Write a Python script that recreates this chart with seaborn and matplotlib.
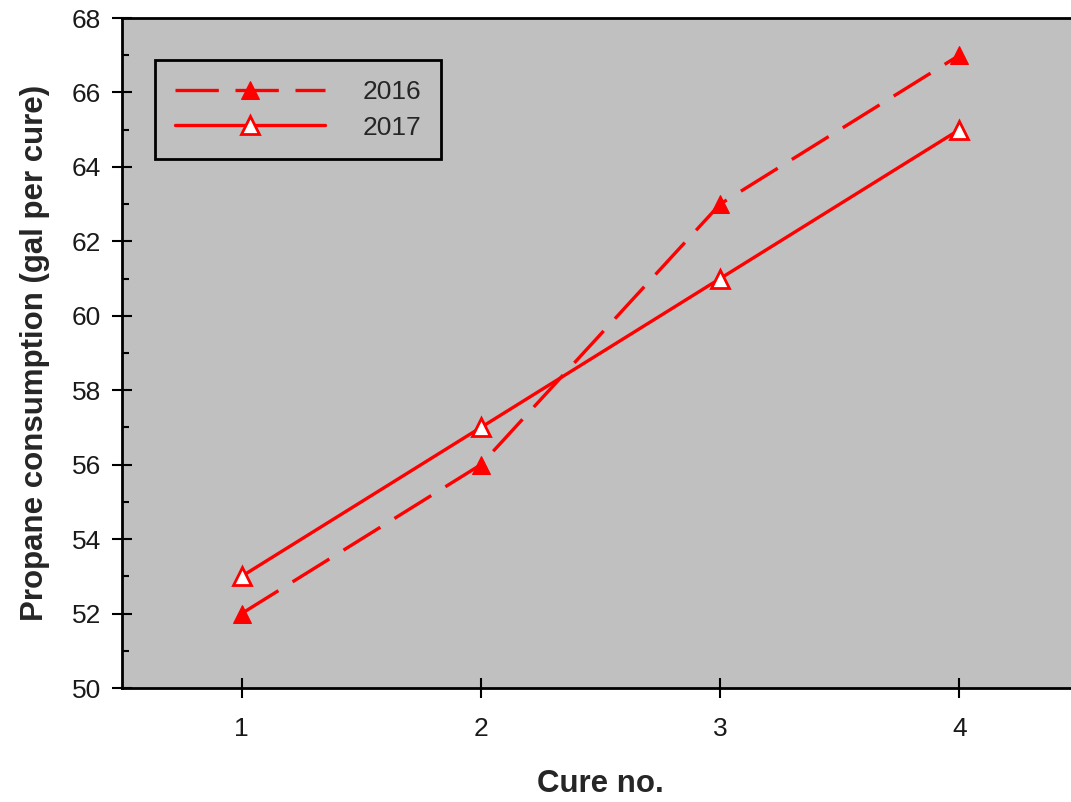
import matplotlib
matplotlib.use("Agg")
import matplotlib.pyplot as plt
import seaborn as sns
import pandas as pd
from matplotlib.ticker import MultipleLocator

cure = [1, 2, 3, 4]
y2016 = [52, 56, 63, 67]
y2017 = [53, 57, 61, 65]
series = ["2016", "2017"]

df = pd.DataFrame({
    "cure": cure * 2,
    "value": y2016 + y2017,
    "year": [series[0]] * 4 + [series[1]] * 4,
})

sns.set_theme(style="ticks")
plt.rcParams['font.family'] = ['Liberation Sans', 'DejaVu Sans']

fig = plt.figure(figsize=(10.71, 8.02), dpi=100)
ax = fig.add_axes([122/1071, 114/802, 957/1071, 670/802])
ax.set_facecolor("#c0c0c0")

red = "#ff0000"
sns.lineplot(data=df[df.year == "2016"], x="cure", y="value", ax=ax, color=red,
             lw=2.4, marker="^", markersize=13, markerfacecolor=red,
             markeredgecolor=red, label="2016", dashes=False)
sns.lineplot(data=df[df.year == "2017"], x="cure", y="value", ax=ax, color=red,
             lw=2.4, marker="^", markersize=13, markerfacecolor="white",
             markeredgecolor=red, markeredgewidth=2, label="2017")
ax.lines[0].set_dashes([13, 5])

ax.set_xlim(0.5, 4.5)
ax.set_ylim(50, 68)
ax.set_xticks(cure)
ax.yaxis.set_major_locator(MultipleLocator(2))
ax.yaxis.set_minor_locator(MultipleLocator(1))
ax.tick_params(axis="both", which="major", direction="inout", length=14, width=1.5,
               labelsize=19, color="black", labelcolor="#1a1a1a")
ax.tick_params(axis="y", which="minor", direction="in", length=5, width=1.5, color="black")
ax.tick_params(axis="x", pad=14)
ax.tick_params(axis="y", pad=8)

for s in ["left", "bottom", "top"]:
    ax.spines[s].set_color("black")
    ax.spines[s].set_linewidth(2)
ax.spines["right"].set_visible(False)

ax.set_xlabel("Cure no.", fontsize=22.5, fontweight="bold", labelpad=20)
ax.set_ylabel("Propane consumption (gal per cure)", fontsize=22.5, fontweight="bold", labelpad=16)

leg = ax.legend(loc="upper left", bbox_to_anchor=(33/957, 1 - 42/670), borderaxespad=0,
                fontsize=19, handlelength=5.7, handletextpad=1.4, frameon=True,
                fancybox=False, edgecolor="black", facecolor="#c0c0c0",
                borderpad=0.75, labelspacing=0.45)
leg.get_frame().set_linewidth(2)
leg.get_frame().set_alpha(1)

fig.savefig("out.png", dpi=100)
